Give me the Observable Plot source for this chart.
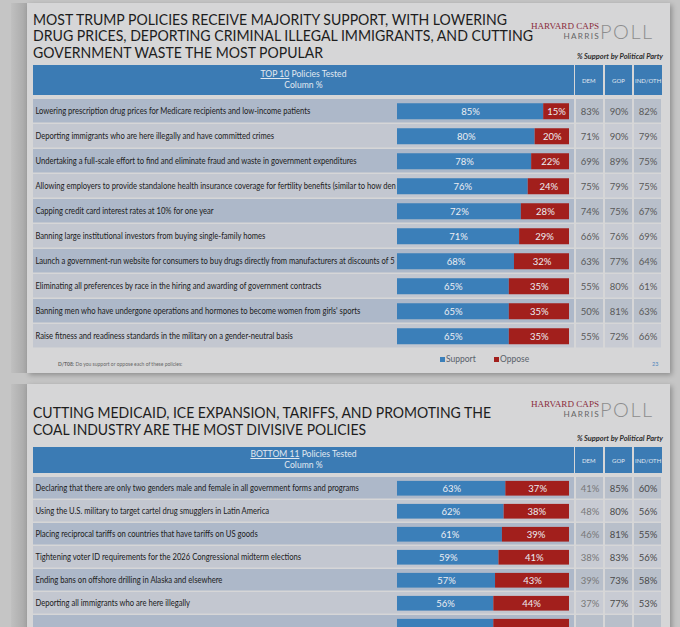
<!DOCTYPE html>
<html>
<head>
<meta charset="utf-8">
<script src="https://cdn.jsdelivr.net/npm/d3@7"></script>
<script src="https://cdn.jsdelivr.net/npm/@observablehq/plot@0.6"></script>
<style>
  html, body { margin: 0; padding: 0; }
  body { width: 680px; height: 627px; overflow: hidden; background: #c5c5c5; position: relative; font-family: Lato, "Open Sans", sans-serif; }
  .a { position: absolute; white-space: nowrap; }
</style>
</head>
<body>
<script>
// ---------- DATA ----------
const topTitle = [
  "MOST TRUMP POLICIES RECEIVE MAJORITY SUPPORT, WITH LOWERING",
  "DRUG PRICES, DEPORTING CRIMINAL ILLEGAL IMMIGRANTS, AND CUTTING",
  "GOVERNMENT WASTE THE MOST POPULAR"
];
const bottomTitle = [
  "CUTTING MEDICAID, ICE EXPANSION, TARIFFS, AND PROMOTING THE",
  "COAL INDUSTRY ARE THE MOST DIVISIVE POLICIES"
];
const topHeader = "TOP 10";
const bottomHeader = "BOTTOM 11";
const partyColumns = ["DEM", "GOP", "IND/OTH"];
const responseKeys = ["Support", "Oppose"];

const topPolicies = [
  "Lowering prescription drug prices for Medicare recipients and low-income patients",
  "Deporting immigrants who are here illegally and have committed crimes",
  "Undertaking a full-scale effort to find and eliminate fraud and waste in government expenditures",
  "Allowing employers to provide standalone health insurance coverage for fertility benefits (similar to how den",
  "Capping credit card interest rates at 10% for one year",
  "Banning large institutional investors from buying single-family homes",
  "Launch a government-run website for consumers to buy drugs directly from manufacturers at discounts of 5",
  "Eliminating all preferences by race in the hiring and awarding of government contracts",
  "Banning men who have undergone operations and hormones to become women from girls' sports",
  "Raise fitness and readiness standards in the military on a gender-neutral basis"
];
const topSupport = [85, 80, 78, 76, 72, 71, 68, 65, 65, 65];
const topOppose  = [15, 20, 22, 24, 28, 29, 32, 35, 35, 35];
const topDem = [83, 71, 69, 75, 74, 66, 63, 55, 50, 55];
const topGop = [90, 90, 89, 79, 75, 76, 77, 80, 81, 72];
const topInd = [82, 79, 75, 75, 67, 69, 64, 61, 63, 66];

// 7th row is cut off at the bottom edge of the picture (only its bars show)
const bottomPolicies = [
  "Declaring that there are only two genders male and female in all government forms and programs",
  "Using the U.S. military to target cartel drug smugglers in Latin America",
  "Placing reciprocal tariffs on countries that have tariffs on US goods",
  "Tightening voter ID requirements for the 2026 Congressional midterm elections",
  "Ending bans on offshore drilling in Alaska and elsewhere",
  "Deporting all immigrants who are here illegally",
  ""
];
const bottomSupport = [63, 62, 61, 59, 57, 56, 56];
const bottomOppose  = [37, 38, 39, 41, 43, 44, 44];
const bottomDem = [41, 48, 46, 38, 39, 37, null];
const bottomGop = [85, 80, 81, 83, 73, 77, null];
const bottomInd = [60, 56, 55, 56, 58, 53, null];

// ---------- HELPERS ----------
function el(css, html) {
  const e = document.createElement("div");
  e.className = "a";
  e.style.cssText = css;
  if (html != null) e.innerHTML = html;
  document.body.appendChild(e);
  return e;
}

function slideFrame(top, h) {
  el(`left:11px;top:${top}px;width:16px;height:${h}px;background:linear-gradient(to right,#c0c0c0,#a7a7a7);`);
  el(`left:27px;top:${top}px;width:643px;height:${h}px;background:#d6d6d7;box-shadow:2px 2px 5px rgba(0,0,0,.28);`);
}

function titleLines(lines, top, widths) {
  lines.forEach((t, j) => {
    const d = el(`left:33px;top:${top + j * 16.8}px;font:400 14.5px Lato;line-height:16px;color:#1d1d1d;transform-origin:0 0;`, t);
    const w = d.getBoundingClientRect().width;
    d.style.transform = `scaleX(${widths[j] / w})`;
  });
}

function logo(top) {
  el(`right:81px;top:${top}px;font:400 9.1px "Liberation Serif",serif;line-height:10px;color:#8a2b3b;`, "HARVARD CAPS");
  el(`right:80px;top:${top + 10}px;font:400 8.2px Lato;line-height:10px;letter-spacing:1.3px;color:#666;`, "HARRIS");
  el(`left:600px;top:${top + 0.3}px;font:300 20px Lato;line-height:20px;letter-spacing:1.5px;color:#8d8d8d;`, "POLL");
}

function partyNote(top) {
  el(`right:17px;top:${top}px;font:italic 700 7.4px Lato;line-height:8px;color:#2e2e2e;`, "% Support by Political Party");
}

function header(top, h, label) {
  el(`left:33px;top:${top}px;width:541px;height:${h}px;background:#3b7bb4;display:flex;flex-direction:column;justify-content:center;align-items:center;color:#e1e8f0;font:400 8.6px Lato;line-height:11px;`,
     `<div><u>${label}</u> Policies Tested</div><div>Column %</div>`);
  partyColumns.forEach((c, j) => {
    el(`left:${575 + j * 29.67}px;top:${top}px;width:27.67px;height:${h}px;background:#3b7bb4;display:flex;justify-content:center;align-items:center;color:#e1e8f0;font:400 6px Lato;`, c);
  });
}

function barTable(policies, support, oppose, top, rowH, barH) {
  const n = policies.length, idx = d3.range(n);
  const rows = idx.map(i => ({i, policy: policies[i]}));
  const long = idx.flatMap(i => responseKeys.map(r => ({i, response: r, value: r === "Support" ? support[i] : oppose[i], shown: policies[i] !== ""})));
  const inset = (rowH - barH) / 2;
  const chart = Plot.plot({
    width: 574, height: n * rowH,
    marginLeft: 397, marginRight: 5, marginTop: 0, marginBottom: 0,
    style: {background: "transparent", fontFamily: "Lato, sans-serif", overflow: "visible"},
    x: {domain: [0, 100], axis: null},
    y: {type: "band", domain: idx, axis: null, padding: 0},
    color: {domain: responseKeys, range: ["#3b7fb9", "#a21f1c"]},
    marks: [
      Plot.cell(rows.filter(d => d.i % 2 === 0), {y: "i", fill: "#adb8c9", insetLeft: -364, insetRight: -5, insetBottom: 1.5}),
      Plot.cell(rows.filter(d => d.i % 2 === 1), {y: "i", fill: "#c3c7d0", insetLeft: -364, insetRight: -5, insetBottom: 1.5}),
      Plot.text(rows, {y: "i", text: "policy", frameAnchor: "left", textAnchor: "start", dx: -362, dy: -0.5, fill: "#202020", fontSize: 9.3}),
      Plot.barX(long, {y: "i", x: "value", fill: "response", insetTop: inset, insetBottom: inset + 0.5}),
      Plot.text(long, Plot.stackX({y: "i", x: "value", text: d => d.shown ? d.value + "%" : null, fill: "#eceef3", fontSize: 9.5, dy: -0.5}))
    ]
  });
  chart.style.position = "absolute";
  chart.style.left = "0px";
  chart.style.top = top + "px";
  document.body.appendChild(chart);
  return chart;
}

function partyTable(dem, gop, ind, top, rowH, demColor, otherColor) {
  const n = dem.length;
  const vals = [dem, gop, ind];
  const cells = d3.range(n).flatMap(i => partyColumns.map((c, j) => ({i, col: c, v: vals[j][i]})));
  const chart = Plot.plot({
    width: 89, height: n * rowH, margin: 0,
    style: {background: "transparent", fontFamily: "Lato, sans-serif", overflow: "visible"},
    x: {type: "band", domain: partyColumns, axis: null, padding: 0},
    y: {type: "band", domain: d3.range(n), axis: null, padding: 0},
    marks: [
      Plot.cell(cells.filter(d => d.i % 2 === 0), {x: "col", y: "i", fill: "#b8bfca", insetLeft: 1, insetRight: 1, insetBottom: 1.5}),
      Plot.cell(cells.filter(d => d.i % 2 === 1), {x: "col", y: "i", fill: "#c8cbd3", insetLeft: 1, insetRight: 1, insetBottom: 1.5}),
      Plot.text(cells.filter(d => d.v != null && d.col === "DEM"), {x: "col", y: "i", text: d => d.v + "%", fill: demColor, fontSize: 9.5, dy: -0.5}),
      Plot.text(cells.filter(d => d.v != null && d.col !== "DEM"), {x: "col", y: "i", text: d => d.v + "%", fill: otherColor, fontSize: 9.5, dy: -0.5})
    ]
  });
  chart.style.position = "absolute";
  chart.style.left = "574px";
  chart.style.top = top + "px";
  document.body.appendChild(chart);
  return chart;
}

// condense the policy-label group horizontally (narrow slide font), anchored at the label start x=35
function labelGroup(svg) { return svg.querySelector('g[text-anchor="start"]'); }
function condense(svg, k) {
  const g = labelGroup(svg);
  const prev = g.getAttribute("transform") || "";
  g.setAttribute("transform", `translate(35 0) scale(${k} 1) translate(-35 0) ${prev}`);
}

// ---------- SLIDE 1 ----------
slideFrame(3, 370);
titleLines(topTitle, 11.6, [474, 500, 290]);
logo(21);
partyNote(53);
header(65, 30, topHeader);
const t1 = barTable(topPolicies, topSupport, topOppose, 96, 25.5, 17);
partyTable(topDem, topGop, topInd, 96, 25.5, "#595959", "#595959");

// legend + footnote
el(`left:440px;top:357px;width:5px;height:5px;background:#3b7fb9;`);
el(`left:446px;top:354px;font:400 8.5px Lato;line-height:11px;color:#59616b;`, responseKeys[0]);
el(`left:494px;top:357px;width:5px;height:5px;background:#a21f1c;`);
el(`left:500px;top:354px;font:400 8.5px Lato;line-height:11px;color:#59616b;`, responseKeys[1]);
el(`left:58px;top:361px;font:400 5px Lato;line-height:6px;color:#666;`, "<b>D/T08:</b> Do you support or oppose each of these policies:");
el(`left:652px;top:361px;font:400 5.5px Lato;line-height:6px;color:#4f86bd;`, "23");

// ---------- SLIDE 2 ----------
slideFrame(384, 300);
titleLines(bottomTitle, 405, [458, 333]);
logo(399);
partyNote(435);
header(447, 26, bottomHeader);
const t2 = barTable(bottomPolicies, bottomSupport, bottomOppose, 474, 23.8, 16);
partyTable(bottomDem, bottomGop, bottomInd, 474, 23.8, "#777777", "#4a4a4a");

// first label spans ~275px in the reference
const k = 275 / labelGroup(t1).querySelector("text").getComputedTextLength();
condense(t1, k);
condense(t2, k);
</script>
</body>
</html>
